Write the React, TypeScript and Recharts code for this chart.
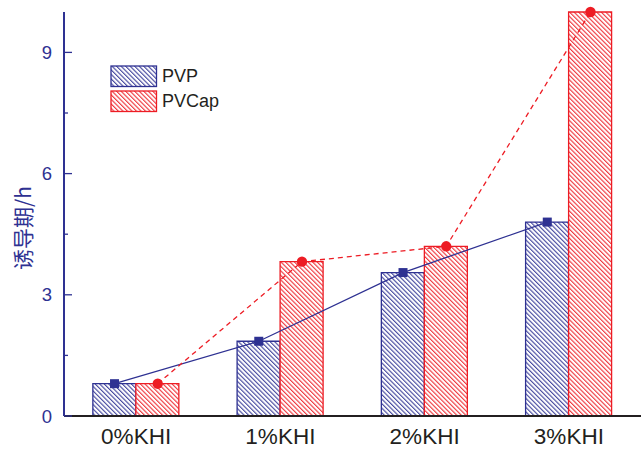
import React from "react";
import { ComposedChart, Bar, Line, XAxis, YAxis } from "recharts";

const categories = ["0%KHI", "1%KHI", "2%KHI", "3%KHI"];
const pvp = [0.8, 1.85, 3.55, 4.8];
const pvcap = [0.8, 3.82, 4.2, 10.0];
const yTicks = [0, 1.5, 3, 4.5, 6, 7.5, 9];
const seriesNames = ["PVP", "PVCap"];

const data = categories.map((c, i) => ({ cat: c, PVP: pvp[i], PVCap: pvcap[i] }));

const NAVY = "#2E3192";
const RED = "#ED1C24";
const FONT = "'Liberation Sans', Arial, sans-serif";

const YTick = (props: any) => {
  const { x, y, payload } = props;
  const v = payload.value;
  const major = v % 3 === 0;
  return (
    <g>
      <line x1={x} y1={y} x2={x + (major ? 8 : 4)} y2={y} stroke={NAVY} strokeWidth={1.3} />
      {major && (
        <text x={x - 12} y={y + 6.6} textAnchor="end" fill={NAVY} fontSize={18.5} fontFamily={FONT}>
          {v}
        </text>
      )}
    </g>
  );
};

const XTick = (props: any) => {
  const { x, y, payload } = props;
  return (
    <text x={x} y={y + 27.5} textAnchor="middle" fill="#231F20" fontSize={22.5} fontFamily={FONT}>
      {payload.value}
    </text>
  );
};

const Square = (props: any) => {
  const { cx, cy } = props;
  if (cx == null || cy == null) return null;
  return <rect x={cx - 4.5} y={cy - 4.5} width={9} height={9} fill={NAVY} />;
};

const Circle = (props: any) => {
  const { cx, cy } = props;
  if (cx == null || cy == null) return null;
  return <circle cx={cx} cy={cy} r={5.2} fill={RED} />;
};

export default function App() {
  return (
    <div style={{ position: "absolute", left: 0, top: 0, width: 642, height: 449, background: "#fff" }}>
      <ComposedChart
        width={642}
        height={449}
        data={data}
        margin={{ top: 12, right: 1, bottom: 0, left: 0 }}
        barCategoryGap="20%"
        barGap={0}
      >
        <defs>
          <pattern id="hatchBlue" patternUnits="userSpaceOnUse" width={3.2} height={3.2} patternTransform="rotate(-45)">
            <rect width={3.2} height={3.2} fill="#fff" />
            <line x1={0.6} y1={0} x2={0.6} y2={3.2} stroke={NAVY} strokeWidth={1} />
          </pattern>
          <pattern id="hatchRed" patternUnits="userSpaceOnUse" width={3.2} height={3.2} patternTransform="rotate(-45)">
            <rect width={3.2} height={3.2} fill="#fff" />
            <line x1={0.6} y1={0} x2={0.6} y2={3.2} stroke={RED} strokeWidth={1} />
          </pattern>
        </defs>
        <XAxis
          dataKey="cat"
          xAxisId="main"
          height={33}
          tickLine={false}
          axisLine={{ stroke: "#231F20", strokeWidth: 2 }}
          tick={<XTick />}
          tickSize={0}
          tickMargin={0}
        />
        <XAxis dataKey="cat" xAxisId="pvp" hide padding={{ left: -21.6, right: 21.6 }} />
        <XAxis dataKey="cat" xAxisId="pvcap" hide padding={{ left: 21.6, right: -21.6 }} />
        <XAxis
          dataKey="cat"
          xAxisId="top"
          orientation="top"
          height={0}
          tick={false}
          tickLine={false}
          axisLine={{ stroke: "#231F20", strokeWidth: 1.5 }}
        />
        <YAxis
          yAxisId="left"
          domain={[0, 10]}
          ticks={yTicks}
          width={64}
          tick={<YTick />}
          tickLine={false}
          tickSize={0}
          tickMargin={0}
          interval={0}
          axisLine={{ stroke: NAVY, strokeWidth: 2 }}
        />
        <YAxis
          yAxisId="right"
          orientation="right"
          domain={[0, 10]}
          width={0}
          tick={false}
          tickLine={false}
          axisLine={{ stroke: "#231F20", strokeWidth: 1.5 }}
        />
        <Bar
          dataKey="PVP"
          name="PVP"
          xAxisId="main"
          yAxisId="left"
          fill="url(#hatchBlue)"
          stroke={NAVY}
          strokeWidth={1.3}
          isAnimationActive={false}
        />
        <Bar
          dataKey="PVCap"
          name="PVCap"
          xAxisId="main"
          yAxisId="left"
          fill="url(#hatchRed)"
          stroke={RED}
          strokeWidth={1.3}
          isAnimationActive={false}
        />
        <Line
          dataKey="PVP"
          xAxisId="pvp"
          yAxisId="left"
          type="linear"
          stroke={NAVY}
          strokeWidth={1.3}
          dot={<Square />}
          activeDot={false}
          legendType="none"
          isAnimationActive={false}
        />
        <Line
          dataKey="PVCap"
          xAxisId="pvcap"
          yAxisId="left"
          type="linear"
          stroke={RED}
          strokeWidth={1.3}
          strokeDasharray="5 4"
          dot={<Circle />}
          activeDot={false}
          legendType="none"
          isAnimationActive={false}
        />
      </ComposedChart>
      <div style={{ position: "absolute", left: 110, top: 64, fontFamily: FONT, fontSize: 18, color: "#231F20" }}>
        {seriesNames.map((name, i) => (
          <div key={name} style={{ display: "flex", alignItems: "center", height: 25 }}>
            <svg width={48} height={23}>
              <rect
                x={1}
                y={1}
                width={45.5}
                height={20.5}
                fill={i === 0 ? "url(#hatchBlue)" : "url(#hatchRed)"}
                stroke={i === 0 ? NAVY : RED}
                strokeWidth={1.3}
              />
            </svg>
            <span style={{ marginLeft: 4 }}>{name}</span>
          </div>
        ))}
      </div>
      <div
        style={{
          position: "absolute",
          left: 22,
          top: 228,
          transform: "translate(-50%, -50%) rotate(-90deg)",
          whiteSpace: "nowrap",
          color: NAVY,
          fontSize: 21,
          fontFamily: "'Noto Sans CJK SC', 'Liberation Sans', sans-serif",
        }}
      >
        诱导期/h
      </div>
    </div>
  );
}
